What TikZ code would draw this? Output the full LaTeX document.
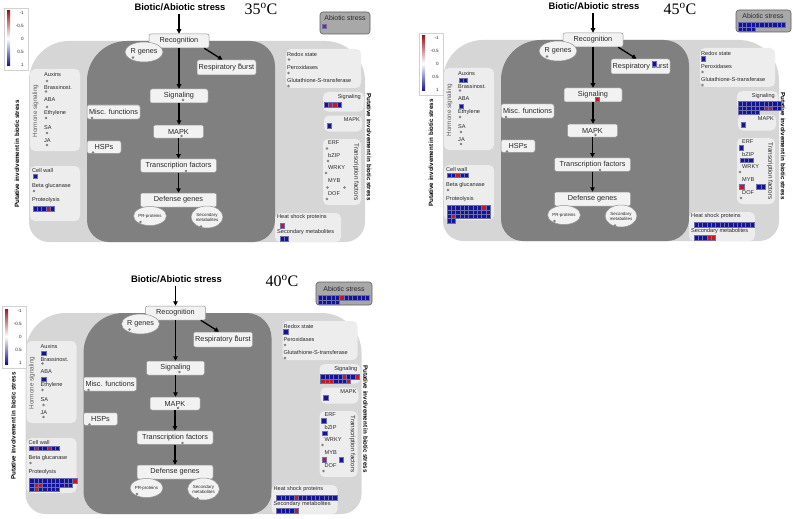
\documentclass[tikz,border=0pt]{standalone}
\usepackage{fontspec}
\setmainfont{Liberation Sans}
\newfontfamily\timesf{Liberation Serif}
\usetikzlibrary{arrows.meta,shapes.geometric}
\definecolor{ltreg}{RGB}{214,214,214}
\definecolor{dkreg}{RGB}{128,128,128}
\definecolor{subp}{RGB}{237,237,237}
\definecolor{boxf}{RGB}{242,242,242}
\definecolor{boxd}{RGB}{150,150,150}
\definecolor{dotc}{RGB}{128,128,128}
\definecolor{sqB}{RGB}{20,20,150}
\definecolor{sqR}{RGB}{185,30,40}
\definecolor{sqedge}{RGB}{110,110,175}
\definecolor{txt}{RGB}{40,40,40}
\definecolor{abf}{RGB}{168,168,168}
\definecolor{abd}{RGB}{95,95,95}
\tikzset{
  mbox/.style={draw=boxd, fill=boxf, rounded corners=2pt, line width=0.5pt, font=\fontsize{7.3}{8}\selectfont, text=txt, inner sep=0pt},
  mell/.style={ellipse, draw=boxd, fill=boxf, line width=0.5pt, inner sep=0pt, text=txt, align=center},
  flow/.style={-{Triangle[length=4.5pt,width=4.5pt]}, line width=1.3pt, black},
  gdot/.style={circle, fill=dotc, inner sep=0pt, minimum size=2.8pt},
  smtxt/.style={font=\fontsize{5.6}{6}\selectfont, inner sep=0pt, text=txt},
  subpanel/.style={fill=subp, rounded corners=5pt},
  sqbox/.style={draw=sqedge, line width=0.3pt},
  vtitle/.style={font=\bfseries\fontsize{6.2}{7}\selectfont, inner sep=0pt},
  legtxt/.style={font=\fontsize{4.6}{5}\selectfont, inner sep=0pt, anchor=east, text=txt},
  abox/.style={draw=abd, fill=abf, rounded corners=3pt, line width=0.6pt},
  abtxt/.style={font=\fontsize{6.9}{7}\selectfont, inner sep=0pt, text=txt},
  temp/.style={font=\timesf\fontsize{16}{18}\selectfont, inner sep=0pt},
}
\newcommand{\sqrow}[3]{\foreach \c [count=\i from 0] in {#3}{\filldraw[sqbox,fill=sq\c] ({#1+4.3*\i},{#2}) rectangle ++(4.3,4.3);}}
\newcommand{\gd}[2]{\node[gdot] (#1) at (#2) {};}
\newcommand{\hmlegend}{%
  \draw[draw=gray!35, fill=white, line width=0.3pt] (0,0) rectangle (24,62);
  \shade[top color=sqR!85!black, bottom color=sqB!90!black, middle color=white] (3,3) rectangle (6,58);
  \node[legtxt] (l1) at (20,5) {-1};
  \node[legtxt] (l2) at (20,18) {-0.5};
  \node[legtxt] (l3) at (20,30.5) {0};
  \node[legtxt] (l4) at (20,44) {0.5};
  \node[legtxt] (l5) at (20,57) {1};
}
\newcommand{\basepanel}{%
  \fill[ltreg] (29,81) arc[start angle=180,end angle=270,radius=40] -- (325,41) arc[start angle=270,end angle=360,radius=40] -- (365,222) arc[start angle=0,end angle=90,radius=20] -- (49,242) arc[start angle=90,end angle=180,radius=20] -- cycle;
  \fill[dkreg] (87,81) arc[start angle=180,end angle=270,radius=40] -- (250,41) arc[start angle=270,end angle=360,radius=25] -- (275,220) arc[start angle=0,end angle=90,radius=22] -- (109,242) arc[start angle=90,end angle=180,radius=22] -- cycle;
  \fill[subpanel] (30,69) rectangle (80,151);
  \fill[subpanel] (30,166) rectangle (80,221);
  \fill[subpanel] (286,49) rectangle (361,88);
  \fill[subpanel] (323,92) rectangle (364,111.5);
  \fill[subpanel] (324,115.5) rectangle (362,131.5);
  \fill[subpanel] (323,139) rectangle (361,205);
  \fill[subpanel] (275,213) rectangle (341,242);
  % titles
  \node[font=\bfseries\fontsize{9.4}{10}\selectfont, inner sep=0pt] (ttl) at (180,7) {Biotic/Abiotic stress};
  \node[vtitle, rotate=90] (pl) at (17,154) {Putative involvement in biotic stress};
  \node[vtitle, rotate=-90] (pr2) at (369,147) {Putative involvement in biotic stress};
  % flow boxes
  \node[mbox, minimum width=60pt, minimum height=14pt] (rec) at (179,41) {Recognition};
  \node[mell, minimum width=31pt, minimum height=20pt, font=\fontsize{7.2}{8}\selectfont] (rg) at (144,52) {R genes};
  \node[mbox, minimum width=59pt, minimum height=15pt] (resp) at (226.5,67.5) {Respiratory burst};
  \node[mbox, minimum width=58pt, minimum height=14pt] (sig) at (179,96) {Signaling};
  \node[mbox, minimum width=53pt, minimum height=14pt] (misc) at (113.5,112) {Misc. functions};
  \node[mbox, minimum width=50pt, minimum height=13pt] (mapk) at (178.5,131.5) {MAPK};
  \node[mbox, minimum width=34pt, minimum height=12.5pt] (hsp) at (104,147) {HSPs};
  \node[mbox, minimum width=76pt, minimum height=13.5pt] (tf) at (178.5,165.5) {Transcription factors};
  \node[mbox, minimum width=76pt, minimum height=14pt] (def) at (178.5,200) {Defense genes};
  \node[mell, minimum width=32pt, minimum height=19pt, font=\fontsize{4.4}{5}\selectfont] (prp) at (150,216) {PR-proteins};
  \node[mell, minimum width=31pt, minimum height=22pt, font=\fontsize{4.4}{5}\selectfont] (secm) at (207,217) {Secondary\\metabolites};
  \draw[flow] ([yshift=-3pt]ttl.south -| rec.north) -- (rec.north);
  \draw[flow] (rec.south) -- (rec.south |- sig.north);
  \draw[flow] (sig.south) -- (sig.south |- mapk.north);
  \draw[flow] (mapk.south) -- (mapk.south |- tf.north);
  \draw[flow] (tf.south) -- (tf.south |- def.north);
  \draw[flow] ([xshift=-5pt]rec.south east) -- ([xshift=-4pt]resp.north);
  % dots in flow
  \gd{drg}{133,57.5}
  \gd{dresp}{240,64.5}
  \gd{dsig}{183,100}
  \gd{dmapk}{181.5,136}
  \gd{dtf}{186,171}
  \gd{dmisc}{92,118}
  \gd{dhsp}{93,152.5}
  \gd{dpr}{140.5,222}
  \gd{dsec}{201,226.5}
  % hormone panel
  \node[font=\fontsize{6.3}{7}\selectfont, rotate=90, inner sep=0pt, text=gray!75!black] (hs) at (35.5,111) {Hormone signaling};
  \node[smtxt, anchor=west] (ha) at (44,74) {Auxins};
  \node[smtxt, anchor=west] (hb) at (44,87) {Brassinost.};
  \node[smtxt, anchor=west] (hc) at (44,100) {ABA};
  \node[smtxt, anchor=west] (hd) at (44,113) {Ethylene};
  \node[smtxt, anchor=west] (he) at (44,127.5) {SA};
  \node[smtxt, anchor=west] (hf) at (44,140.5) {JA};
  \gd{dha}{47,81}
  \gd{dhb}{46,91.5}
  \gd{dhc}{47,107}
  \gd{dhd}{46,118}
  \gd{dhe}{47,133}
  \gd{dhf}{47,145}
  % cell wall panel
  \node[smtxt, anchor=west] (cw) at (32,170.5) {Cell wall};
  \node[smtxt, anchor=west] (bg) at (32,186) {Beta glucanase};
  \node[smtxt, anchor=west] (pt) at (32,200.5) {Proteolysis};
  \gd{dbg}{34,191}
  % redox panel
  \node[smtxt, anchor=west] (rx) at (287,54) {Redox state};
  \node[smtxt, anchor=west] (px) at (287,67) {Peroxidases};
  \node[smtxt, anchor=west] (gs) at (287,80.5) {Glutathione-S-transferase};
  \gd{drx}{289,59.5}
  \gd{dpx}{288.5,73}
  \gd{dgs}{288.5,86}
  % signaling / mapk
  \node[smtxt, anchor=east] (ss) at (361,97) {Signaling};
  \node[smtxt, anchor=east] (sm) at (360,120) {MAPK};
  % transcription factors
  \node[smtxt, anchor=west] (erf) at (328,143) {ERF};
  \node[smtxt, anchor=west] (bzip) at (328,155.5) {bZIP};
  \node[smtxt, anchor=west] (wrky) at (328,168) {WRKY};
  \node[smtxt, anchor=west] (myb) at (328,181) {MYB};
  \node[smtxt, anchor=west] (dof) at (328,194) {DOF};
  \node[font=\fontsize{6.3}{7}\selectfont, rotate=-90, inner sep=0pt, text=txt] (tfv) at (356,172) {Transcription factors};
  \gd{derf}{327,148.5}
  \gd{dbz}{328,161}
  \gd{dwr}{326,173}
  \gd{dmy}{327.5,187.5}
  \gd{dmy2}{344.5,187.5}
  \gd{ddof}{327,199}
  % heat shock
  \node[smtxt, anchor=west] (hsp2) at (277,217.5) {Heat shock proteins};
  \node[smtxt, anchor=west] (sec2) at (277,232) {Secondary metabolites};
}
\begin{document}
\begin{tikzpicture}[x=1pt,y=-1pt]
\useasboundingbox (0,0) rectangle (793,519);
\fill[white] (0,0) rectangle (793,519);
% ---------- panel 1 : 35 C
\begin{scope}[name prefix=p1-]
  \basepanel
  \sqrow{324}{102.5}{B,R,R,B}
  \sqrow{327}{123.5}{B}
  \sqrow{33}{174}{B}
  \sqrow{33}{206.5}{B,B,B,R,B}
  \sqrow{280}{223.5}{R}
  \sqrow{280}{236.5}{B,B}
\end{scope}
\begin{scope}[shift={(4,8)}, name prefix=lg1-]\hmlegend\end{scope}
\node[temp] (t35) at (261,9) {35\textsuperscript{o}C};
\draw[abox] (320,12) rectangle (370,34);
\node[abtxt] (ab1) at (345,18.5) {Abiotic stress};
\sqrow{322.2}{24}{R}
% ---------- panel 2 : 45 C
\begin{scope}[shift={(414,-1)}, name prefix=p2-]
  \basepanel
  \sqrow{44.9}{78.9}{B,B}
  \sqrow{44.9}{104.9}{B}
  \sqrow{286.9}{57.4}{B}
  \sqrow{237.9}{62.4}{B}
  \sqrow{180.9}{97.9}{R}
  \sqrow{324}{102.5}{B,B,B,B,B,B,B,B,B,B}
  \sqrow{324}{106.8}{B,B,B,B,B,B,R,R,B,B}
  \sqrow{324}{111.1}{B,B,B,B,B}
  \sqrow{327}{123.5}{B}
  \sqrow{33}{174}{B,B,R,B,B}
  \sqrow{33}{206.5}{B,B,B,B,B,B,B,B,R,B}
  \sqrow{33}{210.8}{B,B,B,B,B,B,B,B,B,B}
  \sqrow{33}{215.1}{B,R,B,B,B,B,B,B,B,B}
  \sqrow{33}{219.4}{B,B}
  \sqrow{324.9}{146.4}{B}
  \sqrow{325.9}{158.9}{B,B,B}
  \sqrow{325.4}{185.4}{R}
  \sqrow{342.4}{185.4}{B,B}
  \sqrow{280}{223.5}{B,B,B,B,B,B,B,B,B,B,B,B,B,B}
  \sqrow{280}{236.5}{B,B,B,R,R}
\end{scope}
\begin{scope}[shift={(419,33)}, name prefix=lg2-]\hmlegend\end{scope}
\node[temp] (t45) at (680,9) {45\textsuperscript{o}C};
\draw[abox] (736,10) rectangle (791,32);
\node[abtxt] (ab2) at (763,16.5) {Abiotic stress};
\sqrow{738}{22.5}{B,B,B,B,B,B,B,B,B,B,B}
\sqrow{738}{26.8}{B,B,B,B}
% ---------- panel 3 : 40 C
\begin{scope}[shift={(-3.5,272)}, name prefix=p3-]
  \basepanel
  \sqrow{44.9}{78.9}{B}
  \sqrow{44.9}{104.9}{B}
  \sqrow{286.9}{57.4}{B}
  \sqrow{324}{102.5}{B,B,B,B,B,R,B,B,R}
  \sqrow{324}{106.8}{R,R,R,B,B,B,R}
  \sqrow{327}{123.5}{B}
  \sqrow{33}{174}{B,R,B,B,R,B,B}
  \sqrow{33}{206.5}{B,B,B,B,B,B,B,B,B,B,R}
  \sqrow{33}{210.8}{B,R,R,B,B,B,B,B,B,B}
  \sqrow{33}{215.1}{B,R,B,B,B,B,B}
  \sqrow{324.9}{146.4}{B}
  \sqrow{325.9}{158.9}{B}
  \sqrow{325.4}{185.4}{R}
  \sqrow{342.4}{185.4}{B}
  \sqrow{280}{223.5}{B,B,B,B,R,B,B,B,B,B,B,B,B,B}
  \sqrow{280}{236.5}{B,B,B,B,R}
\end{scope}
\begin{scope}[shift={(2,306)}, name prefix=lg3-]\hmlegend\end{scope}
\node[temp] (t40) at (282,281) {40\textsuperscript{o}C};
\draw[abox] (316,282) rectangle (372,305);
\node[abtxt] (ab3) at (344,289.5) {Abiotic stress};
\sqrow{318}{295.5}{B,B,B,B,B,R,B,B,B,B,B,B}
\sqrow{318}{299.8}{B,B,B,B,B}
\end{tikzpicture}
\end{document}
